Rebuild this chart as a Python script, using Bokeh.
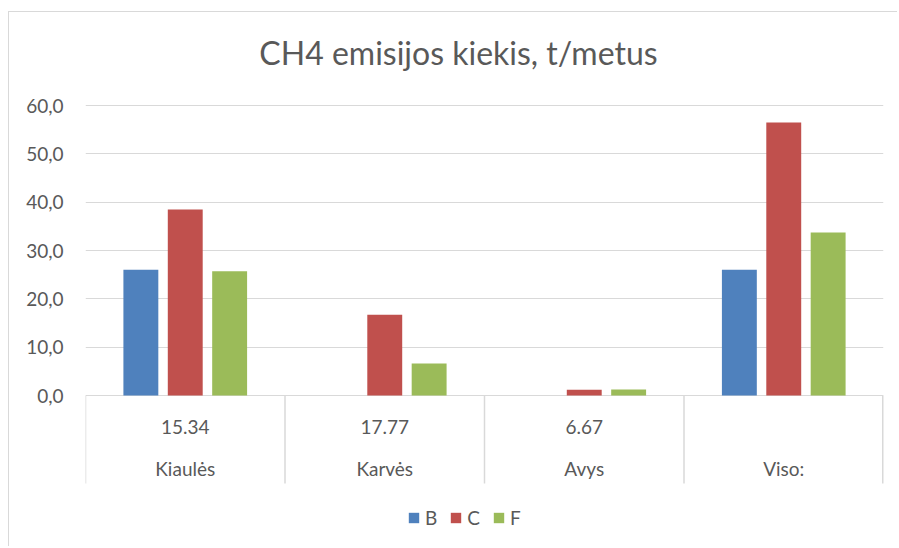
from bokeh.plotting import figure
from bokeh.models import (ColumnDataSource, FactorRange, Range1d, FixedTicker,
                          CustomJSTickFormatter, Legend, LegendItem, Label)
from bokeh.transform import dodge
from bokeh.core.properties import value
from bokeh.embed import file_html
from bokeh.resources import INLINE

# ---- data ----
categories = ["Kiaulės", "Karvės", "Avys", "Viso:"]
top_labels = ["15.34", "17.77", "6.67", ""]
series_names = ["B", "C", "F"]
B = [26.0, 0.0, 0.0, 26.0]
C = [38.5, 16.7, 1.2, 56.5]
F = [25.7, 6.6, 1.25, 33.7]
y_ticks = [0, 10, 20, 30, 40, 50, 60]
title_text = "CH4 emisijos kiekis, t/metus"

# ---- style ----
colors = ["#4F81BD", "#C0504D", "#9BBB59"]
FONT = "Lato"
TXT = "#595959"
GRID = "#D9D9D9"
PX_PER_UNIT = 290 / 60.0
ymax = (395 - 12) / PX_PER_UNIT      # frame spans whole canvas height
ymin = -(547 - 395) / PX_PER_UNIT
table_bottom = -(483 - 395) / PX_PER_UNIT

p = figure(width=889, height=535,
           x_range=FactorRange(factors=categories, range_padding=0),
           y_range=Range1d(ymin, ymax),
           output_backend="svg", toolbar_location=None,
           min_border_left=76, min_border_right=15,
           min_border_top=0, min_border_bottom=0)
p.outline_line_color = None
p.background_fill_color = "white"
p.border_fill_color = "white"
p.styles = {"margin-left": "8px", "margin-top": "11px",
            "border-top": "1px solid #D9D9D9", "border-left": "1px solid #D9D9D9"}

src = ColumnDataSource(dict(cat=categories, top=top_labels, B=B, C=C, F=F,
                            zero=[0] * len(categories)))

# grid
p.xgrid.visible = False
p.ygrid.ticker = FixedTicker(ticks=y_ticks)
p.ygrid.grid_line_color = GRID
p.ygrid.grid_line_width = 1

# axes
p.xaxis.visible = False
p.yaxis.ticker = FixedTicker(ticks=y_ticks)
p.yaxis.formatter = CustomJSTickFormatter(code="return tick.toFixed(1).replace('.', ',');")
p.yaxis.axis_line_color = None
p.yaxis.major_tick_line_color = None
p.yaxis.minor_tick_line_color = None
p.yaxis.major_label_standoff = 16
p.yaxis.major_label_text_font = FONT
p.yaxis.major_label_text_font_size = "19px"
p.yaxis.major_label_text_color = TXT

# bars
offsets = [-0.2225, 0.0, 0.2225]
renderers = []
for name, col, off in zip(series_names, colors, offsets):
    r = p.vbar(x=dodge("cat", off, range=p.x_range), top=name, bottom=0,
               width=0.175, source=src, fill_color=col, line_color=None)
    renderers.append(r)

# category table separators
p.segment(x0=dodge("cat", -0.5, range=p.x_range), y0="zero",
          x1=dodge("cat", -0.5, range=p.x_range), y1=table_bottom,
          source=src, line_color=GRID, line_width=1.5)
end_src = ColumnDataSource(dict(cat=[categories[-1]], zero=[0]))
p.segment(x0=dodge("cat", 0.5, range=p.x_range), y0="zero",
          x1=dodge("cat", 0.5, range=p.x_range), y1=table_bottom,
          source=end_src, line_color=GRID, line_width=3)

# category labels
p.text(x="cat", y="zero", text="top", source=src, text_align="center",
       text_baseline="middle", y_offset=31, text_font=value(FONT),
       text_font_size="19px", text_color=TXT)
p.text(x="cat", y="zero", text="cat", source=src, text_align="center",
       text_baseline="middle", y_offset=73, text_font=value(FONT),
       text_font_size="19px", text_color=TXT)

# title
p.add_layout(Label(x=448, y=39, x_units="canvas", y_units="canvas",
                   text=title_text, text_align="center", text_baseline="alphabetic",
                   text_font=FONT, text_font_size="32px", text_color=TXT))

# legend
legend = Legend(items=[LegendItem(label=n, renderers=[r]) for n, r in zip(series_names, renderers)],
                orientation="horizontal", location=(322, 18),
                glyph_width=13, glyph_height=13, label_width=0,
                label_text_font=FONT, label_text_font_size="19px", label_text_color=TXT,
                padding=0, margin=0, spacing=12, label_standoff=5,
                border_line_color=None, background_fill_alpha=0)
p.add_layout(legend, "center")

open("out.html", "w").write(file_html(p, INLINE))
